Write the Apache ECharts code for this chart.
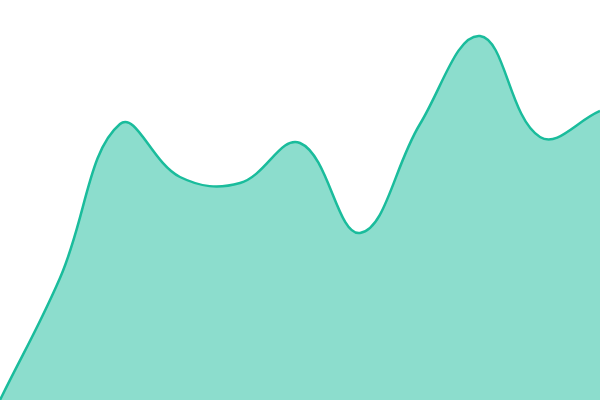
<!DOCTYPE html>
<html><head><meta charset="utf-8">
<script src="https://cdn.jsdelivr.net/npm/echarts@6/dist/echarts.min.js"></script>
<style>html,body{margin:0;padding:0;background:#fff}#c{width:600px;height:400px}</style>
</head><body><div id="c"></div>
<script>
const categories = ['1','2','3','4','5','6','7','8','9','10','11'];
const values = [0, 122, 276, 223, 217, 257, 167, 276, 364, 263, 289];
const tension = 0.4;

function splinePath(pts) {
  const cps = pts.map((cur, i) => {
    const prev = pts[i - 1] || cur, next = pts[i + 1] || cur;
    const d01 = Math.hypot(cur[0] - prev[0], cur[1] - prev[1]);
    const d12 = Math.hypot(next[0] - cur[0], next[1] - cur[1]);
    let s01 = d01 / (d01 + d12), s12 = d12 / (d01 + d12);
    if (!isFinite(s01)) s01 = 0; if (!isFinite(s12)) s12 = 0;
    const fa = tension * s01, fb = tension * s12;
    return {
      p: [cur[0] - fa * (next[0] - prev[0]), cur[1] - fa * (next[1] - prev[1])],
      n: [cur[0] + fb * (next[0] - prev[0]), cur[1] + fb * (next[1] - prev[1])]
    };
  });
  let d = 'M' + pts[0][0] + ' ' + pts[0][1];
  for (let i = 0; i < pts.length - 1; i++) {
    const a = cps[i].n, b = cps[i + 1].p, e = pts[i + 1];
    d += ' C' + a[0] + ' ' + a[1] + ' ' + b[0] + ' ' + b[1] + ' ' + e[0] + ' ' + e[1];
  }
  return d;
}

const chart = echarts.init(document.getElementById('c'));
chart.setOption({
  animation: false,
  grid: {left: 0, right: 0, top: 0, bottom: 0},
  xAxis: {type: 'category', data: categories, boundaryGap: false, show: false},
  yAxis: {type: 'value', min: 0, max: 400, show: false},
  series: [{
    type: 'custom',
    clip: false,
    silent: true,
    data: values.map((v, i) => [i, v]),
    renderItem: function (params, api) {
      if (params.dataIndex !== 0) return null;
      const pts = values.map((v, i) => api.coord([i, v]));
      const base = api.coord([0, 0])[1];
      const line = splinePath(pts);
      const area = line + ' L' + pts[pts.length - 1][0] + ' ' + base + ' L' + pts[0][0] + ' ' + base + ' Z';
      return {
        type: 'group',
        children: [
          {type: 'path', shape: {pathData: area}, style: {fill: 'rgba(26,188,156,0.5)', stroke: null}},
          {type: 'path', shape: {pathData: line}, style: {fill: null, stroke: '#1abc9c', lineWidth: 2.5}}
        ]
      };
    }
  }]
});
</script></body></html>
